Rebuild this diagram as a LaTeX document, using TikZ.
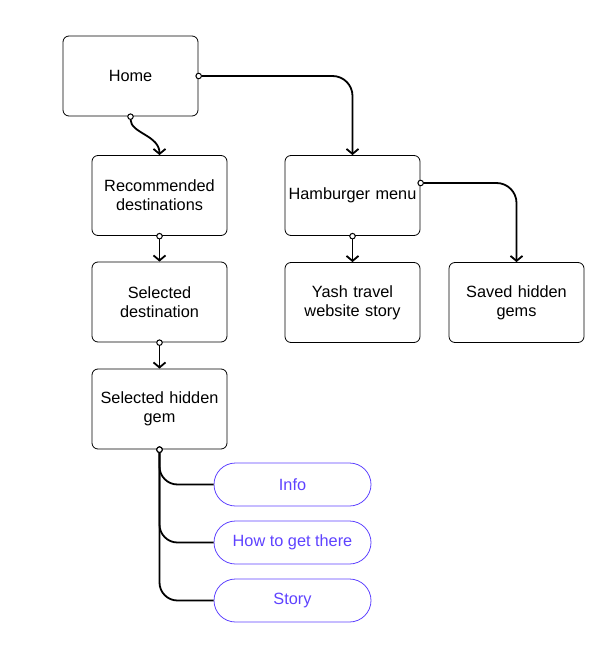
\documentclass[tikz,border=0pt]{standalone}
\usepackage{fontspec}
\setmainfont{Liberation Sans}
\usetikzlibrary{arrows.meta}
\definecolor{pillblue}{RGB}{94,66,255}

\tikzset{
  screen/.style={draw,rounded corners=6pt,line width=0.8pt,minimum width=135pt,minimum height=80pt,
    inner xsep=3.5pt,text width=128pt,align=center,font=\fontsize{16.3}{19}\selectfont},
  pill/.style={draw=pillblue,text=pillblue,rounded corners=21.5pt,line width=0.8pt,minimum width=157pt,
    minimum height=43pt,font=\fontsize{16.3}{19}\selectfont},
  dot/.tip={Circle[fill=white,length=6.5pt,width=6.5pt,line width=1pt]},
  barb/.tip={Straight Barb[length=5pt,width=12pt,line width=1.8pt]},
  link/.style={line width=1.8pt,rounded corners=20pt,dot-barb},
  branch/.style={line width=1.8pt,rounded corners=18pt,dot-}
}

\begin{document}
\begin{tikzpicture}[x=1pt,y=-1pt]
    \useasboundingbox (0,0) rectangle (612,652);
    \node[screen] (home) at (130.5,76) {Home};
    \node[screen] (rec) at (159.5,195.5) {Recommended\\destinations};
    \node[screen] (dest) at (159.5,302) {Selected\\destination};
    \node[screen] (gem) at (159.5,409) {Selected hidden\\gem};
    \node[screen] (ham) at (352.5,195.5) {Hamburger menu};
    \node[screen] (yash) at (352.5,302.5) {Yash travel\\website story};
    \node[screen] (saved) at (516.5,302.5) {Saved hidden\\gems};
    \node[pill] (info) at (292.5,484.5) {Info};
    \node[pill] (howto) at (292.5,542.5) {How to get there};
    \node[pill] (story) at (292.5,600.5) {Story};
    \draw[link] ([yshift=3pt]home.south) to[out=-90,in=90] (rec.north);
    \draw[link] ([xshift=-3pt]home.east) -| (ham.north);
    \draw[link] ([xshift=-3pt,yshift=12.5pt]ham.east) -| (saved.north);
    \draw[link] ([yshift=3pt]ham.south) -- (yash.north);
    \draw[link] ([yshift=3pt]rec.south) -- (dest.north);
    \draw[link] ([yshift=3pt]dest.south) -- (gem.north);
    \draw[branch] ([yshift=3pt]gem.south) |- (story.west);
    \draw[branch] ([yshift=3pt]gem.south) |- (howto.west);
    \draw[branch] ([yshift=3pt]gem.south) |- (info.west);
\end{tikzpicture}
\end{document}
